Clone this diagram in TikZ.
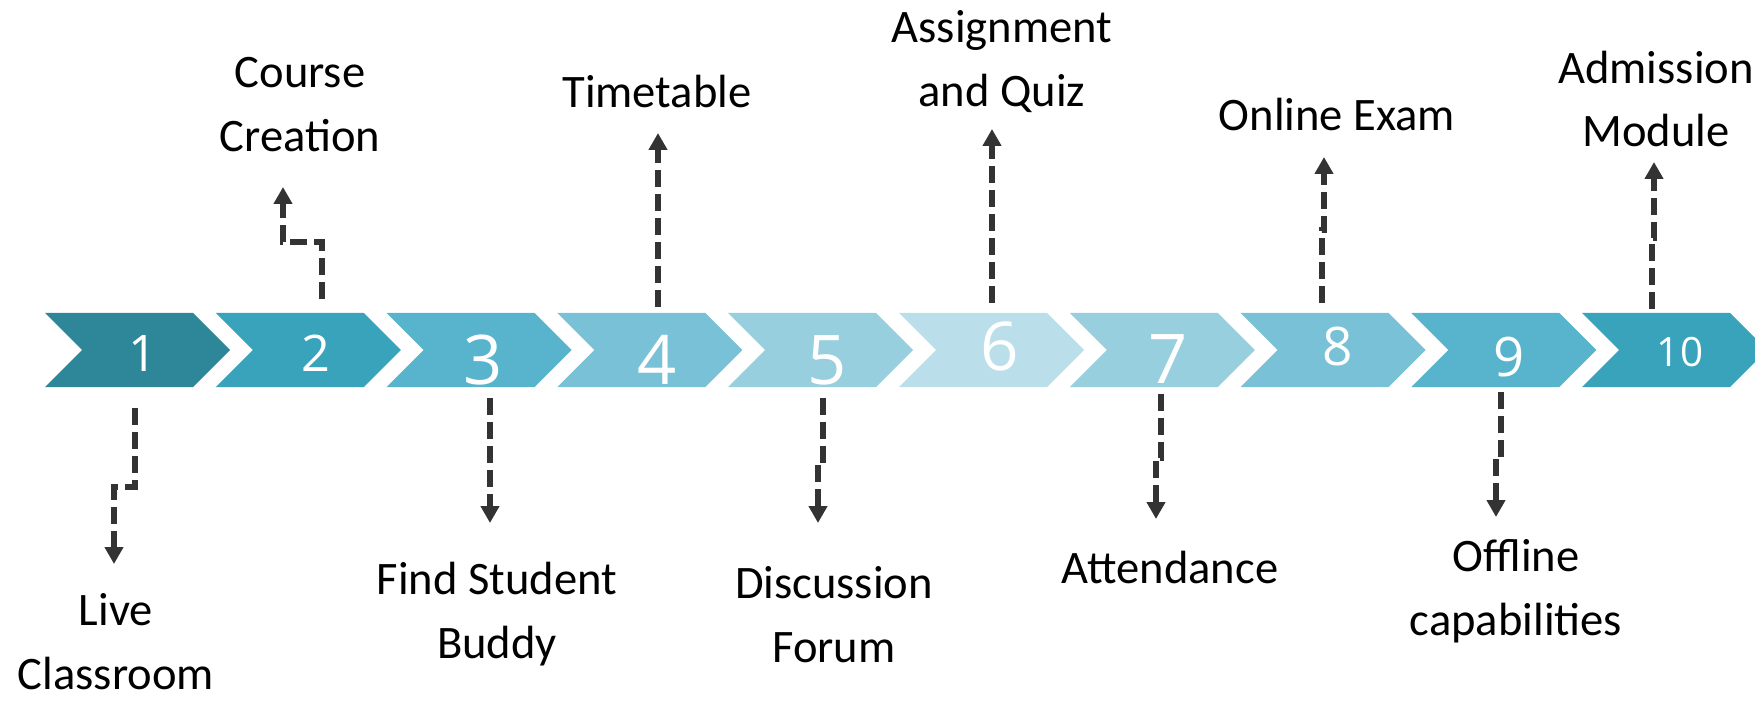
\documentclass[tikz,border=0pt]{standalone}
\usepackage{fontspec}
\setmainfont{Carlito}
\newfontfamily\digitfont{Open Sans}
\usepackage{tikz}
\usetikzlibrary{shapes.symbols,arrows.meta}

\definecolor{tealA}{HTML}{2E8799}
\definecolor{tealB}{HTML}{38A3BB}
\definecolor{tealC}{HTML}{57B4CC}
\definecolor{tealD}{HTML}{78C1D6}
\definecolor{tealE}{HTML}{98CFDE}
\definecolor{tealF}{HTML}{BADFEA}
\definecolor{linkgray}{HTML}{333333}

\begin{document}
\begin{tikzpicture}[
		stage/.style={signal, signal from=west, signal to=east, minimum width=3.7cm, minimum height=1.48cm, inner sep=0pt},
		num/.style={text=white, inner sep=0pt, font=\digitfont},
		topic/.style={align=center, inner sep=0pt, font=\fontsize{26.5}{36.4}\selectfont},
		link/.style={draw=linkgray, line width=0.12cm, dash pattern=on 0.34cm off 0.14cm, -{Triangle[width=0.36cm, length=0.34cm]}}
	]
  \useasboundingbox (0cm, 0cm) rectangle (35.1cm, 14.02cm);

  \node (s_1) [stage, fill=tealA] at (2.75cm, 7.02cm) {};
  \node (s_2) [stage, fill=tealB] at (6.166cm, 7.02cm) {};
  \node (s_3) [stage, fill=tealC] at (9.582cm, 7.02cm) {};
  \node (s_4) [stage, fill=tealD] at (12.998cm, 7.02cm) {};
  \node (s_5) [stage, fill=tealE] at (16.414cm, 7.02cm) {};
  \node (s_6) [stage, fill=tealF] at (19.83cm, 7.02cm) {};
  \node (s_7) [stage, fill=tealE] at (23.246cm, 7.02cm) {};
  \node (s_8) [stage, fill=tealD] at (26.662cm, 7.02cm) {};
  \node (s_9) [stage, fill=tealC] at (30.078cm, 7.02cm) {};
  \node (s_10) [stage, fill=tealB] at (33.494cm, 7.02cm) {};

  \node (n_1) [num, font=\digitfont\fontsize{28.7}{30}\selectfont] at (2.86cm, 6.96cm) {1};
  \node (n_2) [num, font=\digitfont\fontsize{28.7}{30}\selectfont] at (6.32cm, 6.96cm) {2};
  \node (n_3) [num, font=\digitfont\fontsize{39}{40}\selectfont] at (9.66cm, 6.82cm) {3};
  \node (n_4) [num, font=\digitfont\fontsize{39}{40}\selectfont] at (13.14cm, 6.82cm) {4};
  \node (n_5) [num, font=\digitfont\fontsize{39}{40}\selectfont] at (16.54cm, 6.82cm) {5};
  \node (n_6) [num, font=\digitfont\fontsize{38.3}{40}\selectfont] at (20cm, 7.1cm) {6};
  \node (n_7) [num, font=\digitfont\fontsize{39}{40}\selectfont] at (23.36cm, 6.84cm) {7};
  \node (n_8) [num, font=\digitfont\fontsize{30.3}{32}\selectfont] at (26.76cm, 7.1cm) {8};
  \node (n_9) [num, font=\digitfont\fontsize{31}{32}\selectfont] at (30.18cm, 6.88cm) {9};
  \node (n_10) [num, font=\digitfont\fontsize{23}{24}\selectfont] at (33.6cm, 6.98cm) {10};

  \node (l_1) [topic] at (2.32cm, 1.18cm) {Live\\Classroom};
  \node (l_2) [topic] at (6cm, 11.92cm) {Course\\Creation};
  \node (l_3) [topic] at (9.94cm, 1.74cm) {Find Student\\Buddy};
  \node (l_4) [topic] at (13.14cm, 12.18cm) {Timetable};
  \node (l_5) [topic] at (16.68cm, 1.72cm) {Discussion\\Forum};
  \node (l_6) [topic] at (20.04cm, 12.78cm) {Assignment\\and Quiz};
  \node (l_7) [topic] at (23.4cm, 2.66cm) {Attendance};
  \node (l_8) [topic] at (26.74cm, 11.72cm) {Online Exam};
  \node (l_9) [topic] at (30.32cm, 2.19cm) {Offline\\capabilities};
  \node (l_10) [topic] at (33.12cm, 12.04cm) {Admission\\Module};

  % connector ends
  \coordinate (a_1) at (2.7cm, 5.86cm);   \coordinate (b_1) at (2.28cm, 2.74cm);
  \coordinate (a_2) at (6.44cm, 8.04cm);  \coordinate (b_2) at (5.66cm, 10.28cm);
  \coordinate (a_3) at (9.8cm, 6.06cm);   \coordinate (b_3) at (9.8cm, 3.56cm);
  \coordinate (a_4) at (13.16cm, 7.88cm); \coordinate (b_4) at (13.16cm, 11.36cm);
  \coordinate (a_5) at (16.46cm, 6.06cm); \coordinate (b_5) at (16.36cm, 3.56cm);
  \coordinate (a_6) at (19.84cm, 7.96cm); \coordinate (b_6) at (19.84cm, 11.44cm);
  \coordinate (a_7) at (23.22cm, 6.14cm); \coordinate (b_7) at (23.12cm, 3.64cm);
  \coordinate (a_8) at (26.44cm, 7.96cm); \coordinate (b_8) at (26.48cm, 10.88cm);
  \coordinate (a_9) at (30.02cm, 6.18cm); \coordinate (b_9) at (29.92cm, 3.68cm);
  \coordinate (a_10) at (33.04cm, 7.84cm); \coordinate (b_10) at (33.08cm, 10.78cm);

  \draw [link] (a_1) -- ++(0cm, -1.58cm) -| (b_1);
  \draw [link] (a_2) -- ++(0cm, 1.14cm) -| (b_2);
  \draw [link] (a_3) -- (b_3);
  \draw [link] (a_4) -- (b_4);
  \draw [link] (a_5) -- ++(0cm, -1.24cm) -| (b_5);
  \draw [link] (a_6) -- (b_6);
  \draw [link] (a_7) -- ++(0cm, -1.28cm) -| (b_7);
  \draw [link] (a_8) -- ++(0cm, 1.46cm) -| (b_8);
  \draw [link] (a_9) -- ++(0cm, -1.3cm) -| (b_9);
  \draw [link] (a_10) -- ++(0cm, 1.42cm) -| (b_10);
\end{tikzpicture}
\end{document}
